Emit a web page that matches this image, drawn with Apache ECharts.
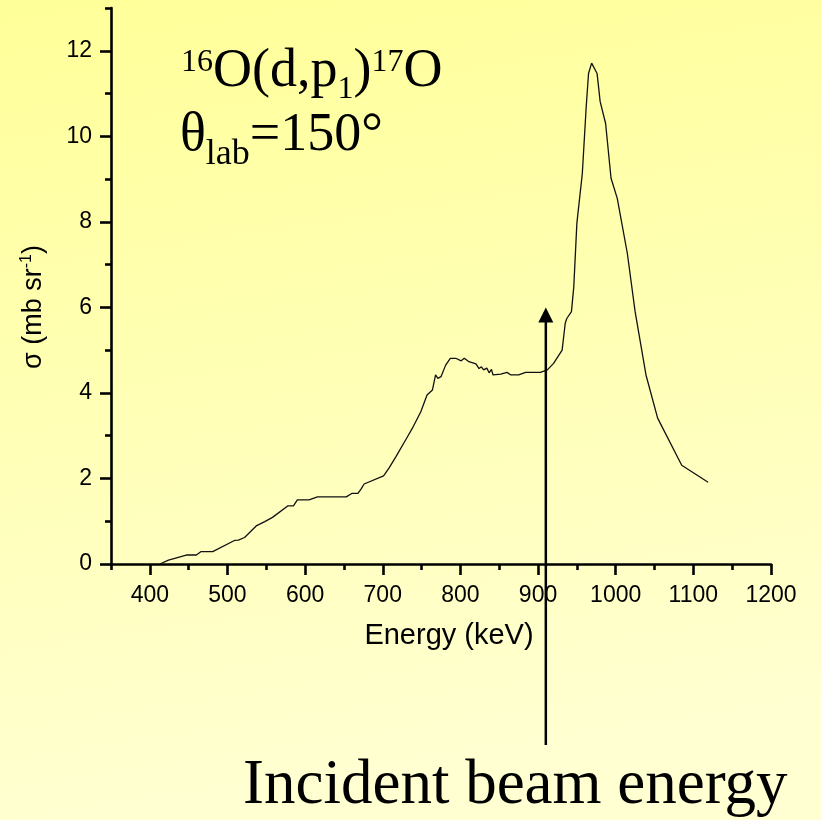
<!DOCTYPE html>
<html>
<head>
<meta charset="utf-8">
<script src="https://cdn.jsdelivr.net/npm/echarts@6/dist/echarts.min.js"></script>
<style>
html,body{margin:0;padding:0;background:#ffffcc;}
#c{width:821px;height:820px;}
</style>
</head>
<body>
<div id="c"></div>
<script>
// ---- data ----
const energy = [413, 424, 447, 460, 466, 481, 509, 514, 522, 537, 548, 558, 578, 585, 590, 605, 616, 653, 660, 668,
  672, 676, 701, 708, 717, 732, 738, 749, 757, 764, 768, 771, 775, 781, 787, 794, 801, 805, 811, 820,
  824, 827, 830, 834, 837, 840, 842, 852, 860, 865, 875, 884, 903, 912, 920, 931, 935, 937, 943, 946,
  950, 957, 962, 965, 969, 976, 980, 987, 994, 1002, 1015, 1025, 1039, 1054, 1085, 1119];
const sigma = [0, 0.09, 0.21, 0.21, 0.29, 0.29, 0.55, 0.56, 0.62, 0.89, 0.99, 1.09, 1.36, 1.36, 1.50, 1.50, 1.57, 1.57, 1.65, 1.65,
  1.75, 1.87, 2.06, 2.24, 2.51, 2.98, 3.17, 3.56, 3.95, 4.07, 4.42, 4.34, 4.38, 4.65, 4.81, 4.81, 4.75, 4.81, 4.73, 4.68,
  4.57, 4.61, 4.54, 4.58, 4.47, 4.55, 4.42, 4.44, 4.48, 4.42, 4.42, 4.48, 4.48, 4.54, 4.69, 5.00, 5.63, 5.74, 5.90, 6.48,
  7.97, 9.13, 10.69, 11.47, 11.71, 11.47, 10.81, 10.30, 9.02, 8.55, 7.26, 5.90, 4.42, 3.41, 2.31, 1.91];

const xTickLabels = [400, 500, 600, 700, 800, 900, 1000, 1100, 1200];
const xMinorTicks = [350, 450, 550, 650, 750, 850, 950, 1050, 1150];
const yTickLabels = [0, 2, 4, 6, 8, 10, 12];
const yMinorTicks = [1, 3, 5, 7, 9, 11, 13];

const xAxisName = 'Energy (keV)';
const yAxisNameMain = 'σ (mb sr';
const yAxisNameSup = '-1';

const beamEnergy = 910;      // keV, position of the arrow
const arrowTipSigma = 6.0;   // arrow head tip height
const beamLabel = 'Incident beam energy';

// title runs: [text, kind]
const titleLine1 = [['16', 'sup'], ['O(d,p', 'main'], ['1', 'sub'], [')', 'main'], ['17', 'sup'], ['O', 'main']];
const titleLine2 = [['θ', 'main'], ['lab', 'sub2'], ['=150°', 'main']];

// ---- chart ----
const SANS = '"Liberation Sans", Arial, sans-serif';
const SERIF = '"Liberation Serif", "Times New Roman", serif';

const chart = echarts.init(document.getElementById('c'), null, {renderer: 'canvas'});

const pts = energy.map((e, i) => [e, sigma[i]]);

const axisLineStyle = {color: '#000', width: 2.6};
const plainNumber = v => String(v);

chart.setOption({
  animation: false,
  backgroundColor: 'transparent',
  grid: {left: 111, right: 50, top: 8, bottom: 256, containLabel: false, outerBoundsMode: 'none'},
  xAxis: [
    {
      type: 'value', min: 350, max: 1200, position: 'bottom',
      axisLine: {show: true, onZero: false, lineStyle: axisLineStyle},
      axisTick: {show: true, customValues: xTickLabels, length: 11, lineStyle: axisLineStyle},
      axisLabel: {customValues: xTickLabels, formatter: plainNumber, fontSize: 23, fontFamily: SANS, color: '#000', margin: 20},
      splitLine: {show: false},
      name: xAxisName, nameLocation: 'middle', nameGap: 57,
      nameTextStyle: {fontSize: 29, fontFamily: SANS, color: '#000', padding: [0, 0, 0, 16]}
    },
    {
      type: 'value', min: 350, max: 1200, position: 'bottom',
      axisLine: {show: false, onZero: false},
      axisTick: {show: true, customValues: xMinorTicks, length: 6, lineStyle: axisLineStyle},
      axisLabel: {show: false},
      splitLine: {show: false}
    }
  ],
  yAxis: [
    {
      type: 'value', min: 0, max: 13, position: 'left',
      axisLine: {show: true, onZero: false, lineStyle: axisLineStyle},
      axisTick: {show: true, customValues: yTickLabels, length: 11, lineStyle: axisLineStyle},
      axisLabel: {customValues: yTickLabels, formatter: plainNumber, fontSize: 23, fontFamily: SANS, color: '#000', margin: 19, padding: [7, 0, 0, 0]},
      splitLine: {show: false},
      name: '{a|' + yAxisNameMain + '}{s|' + yAxisNameSup + '}{a|)}',
      nameLocation: 'middle', nameGap: 62, nameRotate: 90,
      nameTextStyle: {
        padding: [0, 42, 0, 0],
        rich: {
          a: {fontSize: 27, fontFamily: SANS, color: '#000', lineHeight: 30},
          s: {fontSize: 16, fontFamily: SANS, color: '#000', lineHeight: 18, verticalAlign: 'top'}
        }
      }
    },
    {
      type: 'value', min: 0, max: 13, position: 'left',
      axisLine: {show: false, onZero: false},
      axisTick: {show: true, customValues: yMinorTicks, length: 6, lineStyle: axisLineStyle},
      axisLabel: {show: false},
      splitLine: {show: false}
    }
  ],
  series: [{
    type: 'line', xAxisIndex: 0, yAxisIndex: 0,
    data: pts, showSymbol: false, symbol: 'none', smooth: false,
    lineStyle: {color: '#111', width: 1.3}
  }]
});

// ---- annotations (positioned through the chart's own scales) ----
const measureCtx = document.createElement('canvas').getContext('2d');
function textWidth(t, size, fam) {
  measureCtx.font = size + 'px ' + fam;
  return measureCtx.measureText(t).width;
}
const MID = 0.3375; // middle-to-baseline offset (em) for Liberation Serif

function layoutRuns(runs, x0, baseline, sizes, offsets) {
  const out = [];
  let x = x0;
  runs.forEach(([t, kind]) => {
    const fs = sizes[kind];
    const by = baseline + offsets[kind];
    out.push({
      type: 'text', z: 50, silent: true,
      style: {
        text: t, x: x, y: by - MID * fs,
        fontSize: fs, fontFamily: SERIF, fill: '#000',
        align: 'left', verticalAlign: 'middle'
      }
    });
    x += textWidth(t, fs, SERIF);
  });
  return out;
}

const tip = chart.convertToPixel({xAxisIndex: 0, yAxisIndex: 0}, [beamEnergy, arrowTipSigma]);
const arrowBottomY = 745;
const headLen = 15, headHalf = 7.5;

const graphics = [
  {
    type: 'rect', z: -100, silent: true,
    shape: {x: 0, y: 0, width: 821, height: 820},
    style: {
      fill: new echarts.graphic.LinearGradient(0, 0, 0.15, 1, [
        {offset: 0, color: '#ffff99'},
        {offset: 1, color: '#ffffd2'}
      ])
    }
  },
  {
    type: 'line', z: 40, silent: true,
    shape: {x1: tip[0], y1: tip[1] + headLen - 1, x2: tip[0], y2: arrowBottomY},
    style: {stroke: '#000', lineWidth: 2.5}
  },
  {
    type: 'polygon', z: 40, silent: true,
    shape: {points: [[tip[0], tip[1]], [tip[0] - headHalf, tip[1] + headLen], [tip[0] + headHalf, tip[1] + headLen]]},
    style: {fill: '#000'}
  },
  {
    type: 'text', z: 50, silent: true,
    style: {
      text: beamLabel, x: 243, y: 808 - MID * 63,
      fontSize: 63, fontFamily: SERIF, fill: '#000', align: 'left', verticalAlign: 'middle'
    }
  }
].concat(
  layoutRuns(titleLine1, 181, 90, {main: 54, sup: 32, sub: 32}, {main: 0, sup: -17, sub: 10}),
  layoutRuns(titleLine2, 180, 154, {main: 54, sub2: 36}, {main: 0, sub2: 13})
);

chart.setOption({graphic: graphics});
</script>
</body>
</html>
